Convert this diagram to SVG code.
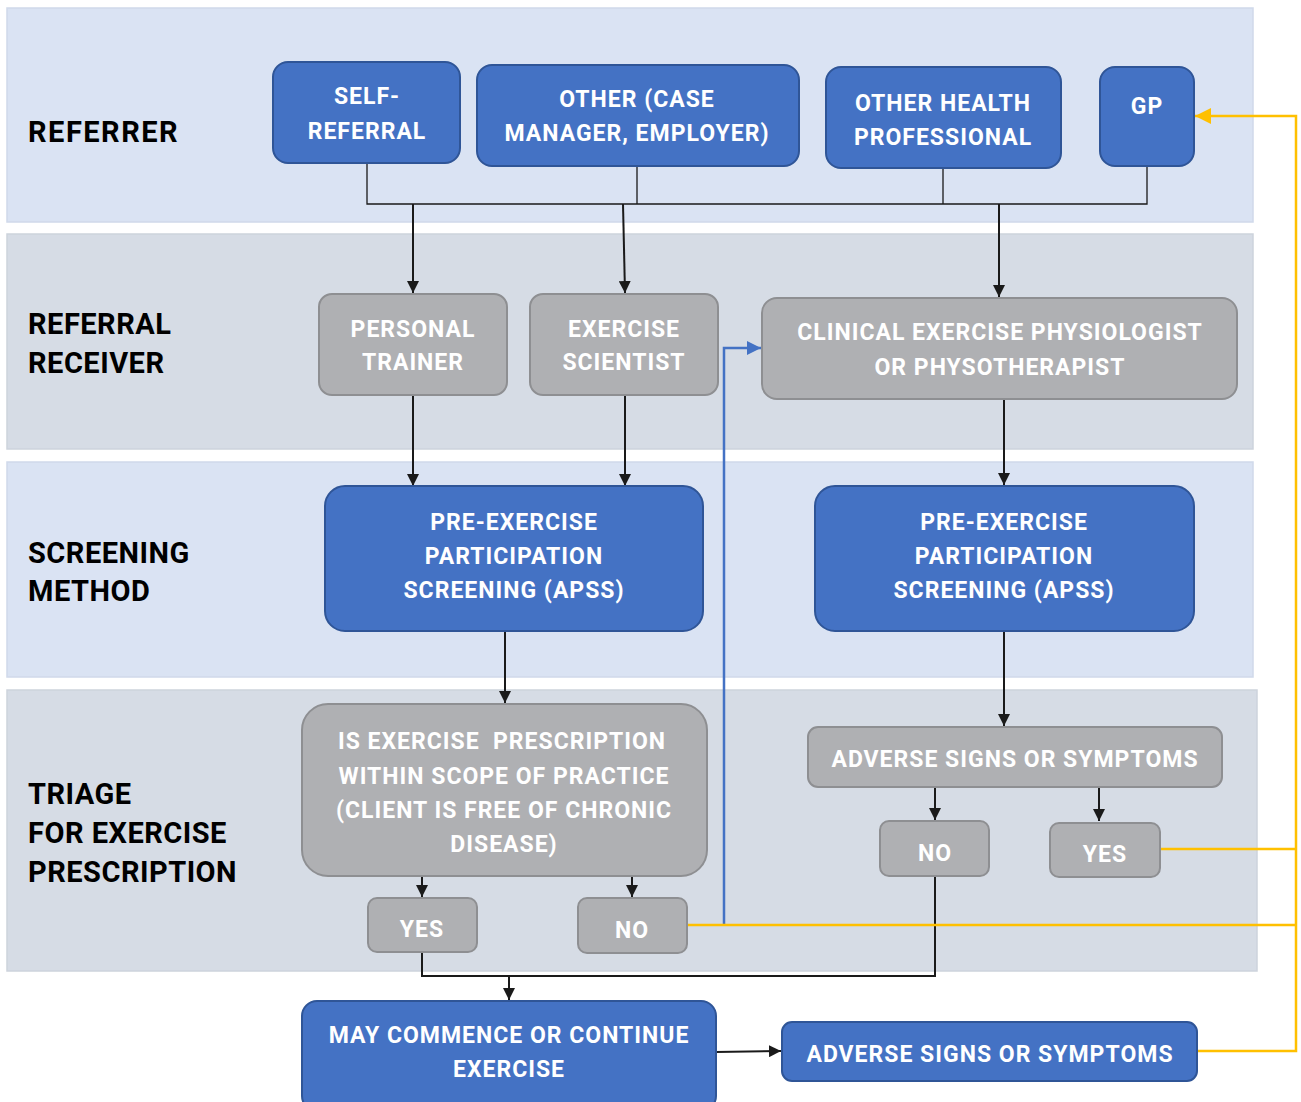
<svg xmlns="http://www.w3.org/2000/svg" width="1301" height="1102" viewBox="0 0 1301 1102">
<style>
.bandA{fill:#dae3f3;stroke:#d0d9ea;stroke-width:1.5}
.bandB{fill:#d6dce5;stroke:#cdd3dc;stroke-width:1.5}
.blue{fill:#4472c4;stroke:#2f5597;stroke-width:2}
.gray{fill:#afb0b3;stroke:#8e8f92;stroke-width:2}
.t{font-family:Roboto,"DejaVu Sans",sans-serif;font-weight:700;font-size:23px;fill:#ffffff;text-anchor:middle;letter-spacing:1px}
.lbl{font-family:Roboto,"DejaVu Sans",sans-serif;font-weight:700;font-size:29px;fill:#000000;letter-spacing:0.5px}
.k{fill:none;stroke:#1a1a1a;stroke-width:2}
.kt{fill:none;stroke:#1a1a1a;stroke-width:1.3}
.y{fill:none;stroke:#ffc000;stroke-width:2.5}
.b{fill:none;stroke:#4472c4;stroke-width:2.5}
</style>
<defs>
<marker id="ahk" viewBox="0 0 10 10" refX="10" refY="5" markerWidth="12" markerHeight="12" markerUnits="userSpaceOnUse" orient="auto"><path d="M0,0 L10,5 L0,10 z" fill="#1a1a1a"/></marker>
<marker id="ahy" viewBox="0 0 10 10" refX="10" refY="5" markerWidth="16" markerHeight="16" markerUnits="userSpaceOnUse" orient="auto"><path d="M0,0 L10,5 L0,10 z" fill="#ffc000"/></marker>
<marker id="ahb" viewBox="0 0 10 10" refX="10" refY="5" markerWidth="14" markerHeight="14" markerUnits="userSpaceOnUse" orient="auto"><path d="M0,0 L10,5 L0,10 z" fill="#4472c4"/></marker>
</defs>
<rect width="1301" height="1102" fill="#ffffff"/>
<g id="bands">
<rect class="bandA" x="7" y="8" width="1246" height="214"/>
<rect class="bandB" x="7" y="234" width="1246" height="215"/>
<rect class="bandA" x="7" y="462" width="1246" height="215"/>
<rect class="bandB" x="7" y="690" width="1250" height="281"/>
</g>
<g id="lane-labels">
<text class="lbl" x="28" y="142" style="letter-spacing:1.5px">REFERRER</text>
<text class="lbl" x="28" y="334">REFERRAL</text>
<text class="lbl" x="28" y="373">RECEIVER</text>
<text class="lbl" x="28" y="563">SCREENING</text>
<text class="lbl" x="28" y="601">METHOD</text>
<text class="lbl" x="28" y="804">TRIAGE</text>
<text class="lbl" x="28" y="843">FOR EXERCISE</text>
<text class="lbl" x="28" y="882">PRESCRIPTION</text>
</g>
<g id="connectors">
<path class="kt" d="M367,163 V204 H1147 V166 M637,166 V204 M943,168 V204"/>
<path class="k" d="M413,204 V293" marker-end="url(#ahk)"/>
<path class="k" d="M623,204 L625,293" marker-end="url(#ahk)"/>
<path class="k" d="M999,204 V297" marker-end="url(#ahk)"/>
<path class="k" d="M413,395 V486" marker-end="url(#ahk)"/>
<path class="k" d="M625,395 V486" marker-end="url(#ahk)"/>
<path class="k" d="M1004,399 V485" marker-end="url(#ahk)"/>
<path class="k" d="M505,631 V703" marker-end="url(#ahk)"/>
<path class="k" d="M1004,631 V726" marker-end="url(#ahk)"/>
<path class="k" d="M422,876 V897" marker-end="url(#ahk)"/>
<path class="k" d="M632,876 V897" marker-end="url(#ahk)"/>
<path class="k" d="M935,787 V820" marker-end="url(#ahk)"/>
<path class="k" d="M1099,787 V821" marker-end="url(#ahk)"/>
<path class="k" d="M422,952 V976 H935 V876"/>
<path class="k" d="M509,976 V1000" marker-end="url(#ahk)"/>
<path class="k" d="M716,1052 L781,1051" marker-end="url(#ahk)"/>
<path class="b" d="M724,925 V348 H761" marker-end="url(#ahb)"/>
<path class="y" d="M687,925 H1296 M1160,849 H1296 M1197,1051 H1296 V116 H1195" marker-end="url(#ahy)"/>
</g>
<g id="self-referral"><rect class="blue" x="273" y="62" width="187" height="101" rx="15"/><text class="t" x="367" y="104">SELF-</text><text class="t" x="367" y="139">REFERRAL</text></g>
<g id="other-case"><rect class="blue" x="477" y="65" width="322" height="101" rx="15"/><text class="t" x="637" y="107">OTHER (CASE</text><text class="t" x="637" y="141">MANAGER, EMPLOYER)</text></g>
<g id="other-health"><rect class="blue" x="826" y="67" width="235" height="101" rx="15"/><text class="t" x="943" y="111">OTHER HEALTH</text><text class="t" x="943" y="145">PROFESSIONAL</text></g>
<g id="gp"><rect class="blue" x="1100" y="67" width="94" height="99" rx="15"/><text class="t" x="1147" y="114">GP</text></g>
<g id="personal-trainer"><rect class="gray" x="319" y="294" width="188" height="101" rx="13"/><text class="t" x="413" y="337">PERSONAL</text><text class="t" x="413" y="370">TRAINER</text></g>
<g id="exercise-scientist"><rect class="gray" x="530" y="294" width="188" height="101" rx="13"/><text class="t" x="624" y="337">EXERCISE</text><text class="t" x="624" y="370">SCIENTIST</text></g>
<g id="clinical"><rect class="gray" x="762" y="298" width="475" height="101" rx="15"/><text class="t" x="1000" y="340">CLINICAL EXERCISE PHYSIOLOGIST</text><text class="t" x="1000" y="375">OR PHYSOTHERAPIST</text></g>
<g id="apss-left"><rect class="blue" x="325" y="486" width="378" height="145" rx="20"/><text class="t" x="514" y="530">PRE-EXERCISE</text><text class="t" x="514" y="564">PARTICIPATION</text><text class="t" x="514" y="598">SCREENING (APSS)</text></g>
<g id="apss-right"><rect class="blue" x="815" y="486" width="379" height="145" rx="20"/><text class="t" x="1004" y="530">PRE-EXERCISE</text><text class="t" x="1004" y="564">PARTICIPATION</text><text class="t" x="1004" y="598">SCREENING (APSS)</text></g>
<g id="scope-question"><rect class="gray" x="302" y="704" width="405" height="172" rx="26"/><text class="t" x="502" y="749" style="white-space:pre">IS EXERCISE  PRESCRIPTION</text><text class="t" x="504" y="784">WITHIN SCOPE OF PRACTICE</text><text class="t" x="504" y="818">(CLIENT IS FREE OF CHRONIC</text><text class="t" x="504" y="852">DISEASE)</text></g>
<g id="adverse-gray"><rect class="gray" x="808" y="727" width="414" height="60" rx="10"/><text class="t" x="1015" y="767">ADVERSE SIGNS OR SYMPTOMS</text></g>
<g id="no-right"><rect class="gray" x="880" y="821" width="109" height="55" rx="9"/><text class="t" x="935" y="861">NO</text></g>
<g id="yes-right"><rect class="gray" x="1050" y="823" width="110" height="54" rx="9"/><text class="t" x="1105" y="862">YES</text></g>
<g id="yes-left"><rect class="gray" x="368" y="898" width="109" height="54" rx="9"/><text class="t" x="422" y="937">YES</text></g>
<g id="no-left"><rect class="gray" x="578" y="898" width="109" height="55" rx="9"/><text class="t" x="632" y="938">NO</text></g>
<g id="may-commence"><rect class="blue" x="302" y="1001" width="414" height="110" rx="15"/><text class="t" x="509" y="1043">MAY COMMENCE OR CONTINUE</text><text class="t" x="509" y="1077">EXERCISE</text></g>
<g id="adverse-blue"><rect class="blue" x="782" y="1022" width="415" height="59" rx="10"/><text class="t" x="990" y="1062">ADVERSE SIGNS OR SYMPTOMS</text></g>
</svg>
